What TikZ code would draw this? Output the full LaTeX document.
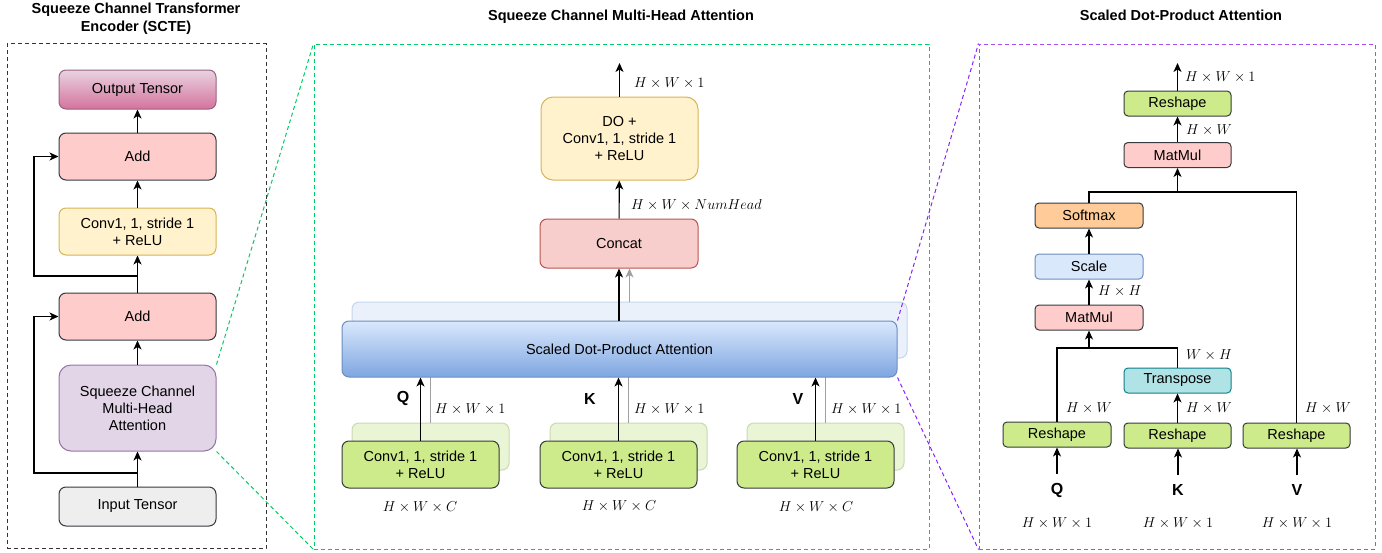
\documentclass[tikz,border=0pt]{standalone}
\usepackage{fontspec}
\setmainfont{Liberation Sans}
\usetikzlibrary{arrows.meta,calc}

\definecolor{edgegray}{HTML}{36393D}
\definecolor{addfill}{HTML}{FFCCCC}
\definecolor{yelfill}{HTML}{FFF2CC}
\definecolor{yeledge}{HTML}{D6B656}
\definecolor{purfill}{HTML}{E1D5E7}
\definecolor{puredge}{HTML}{9673A6}
\definecolor{infill}{HTML}{EEEEEE}
\definecolor{outtop}{HTML}{E8D3E0}
\definecolor{outbot}{HTML}{D5739D}
\definecolor{outedge}{HTML}{996185}
\definecolor{catfill}{HTML}{F8CECC}
\definecolor{catedge}{HTML}{B85450}
\definecolor{bluetop}{HTML}{DAE8FC}
\definecolor{bluebot}{HTML}{7EA6E0}
\definecolor{blueedge}{HTML}{6C8EBF}
\definecolor{ghostblue}{HTML}{EAF1FB}
\definecolor{ghostblueedge}{HTML}{C6D5EC}
\definecolor{greenfill}{HTML}{CDEB8B}
\definecolor{ghostgreen}{HTML}{EAF5D6}
\definecolor{ghostgreenedge}{HTML}{C9D9B2}
\definecolor{softfill}{HTML}{FFCC99}
\definecolor{transfill}{HTML}{B0E3E6}
\definecolor{transedge}{HTML}{0E8088}
\definecolor{zoomgreen}{HTML}{00CC66}
\definecolor{zoompurple}{HTML}{8822FF}
\definecolor{framepurple}{HTML}{A64DF0}
\definecolor{ghostline}{HTML}{A0A0A0}

\tikzset{
  blk/.style={rounded corners=7pt, line width=1pt, align=center, inner sep=0pt,
    font=\fontsize{14.5}{17}\selectfont, text=black},
  bigbox/.style={blk, minimum width=157pt},
  smallbox/.style={blk, rounded corners=4pt, minimum width=107pt, minimum height=25pt,
    draw=edgegray},
  arr/.style={-{Stealth[length=9pt,width=8pt,inset=2.5pt]}, line width=1.1pt},
  ghostarr/.style={-{Stealth[length=9pt,width=8pt,inset=2.5pt]}, line width=1pt, draw=ghostline, fill=ghostline},
  link/.style={line width=1.1pt},
  mlabel/.style={font=\fontsize{14}{16}\selectfont, inner sep=0pt, anchor=west},
  clabel/.style={font=\fontsize{14}{16}\selectfont, inner sep=0pt},
  letter/.style={font=\bfseries\fontsize{16}{18}\selectfont, inner sep=0pt},
  title/.style={font=\bfseries\fontsize{14.5}{18}\selectfont, align=center, inner sep=0pt},
  frame/.style={dash pattern=on 4pt off 3pt, line width=1pt, inner sep=0pt},
  zoomline/.style={dash pattern=on 4pt off 3pt, line width=1pt},
}

\begin{document}
\begin{tikzpicture}[x=1pt,y=-1pt]
\useasboundingbox (0,0) rectangle (1382,552);

% ---------------- panel titles ----------------
\node[title] (tl) at (136,19) {Squeeze Channel Transformer\\Encoder (SCTE)};
\node[title] (tm) at (621,17) {Squeeze Channel Multi-Head Attention};
\node[title] (tr) at (1181,15) {Scaled Dot-Product Attention};

% ---------------- frames ----------------
\node[frame, draw=black!80, minimum width=259pt, minimum height=505pt] (frameL) at (136.5,296) {};
\node[frame, draw=zoomgreen, minimum width=615pt, minimum height=505pt] (frameM) at (621.5,296.5) {};
\node[frame, draw=framepurple, minimum width=396pt, minimum height=505pt] (frameR) at (1177,296.5) {};

% ---------------- encoder (left) ----------------
\node[bigbox, minimum height=39pt, draw=outedge, top color=outtop, bottom color=outbot] (out) at (137.5,89.5) {Output Tensor};
\node[bigbox, minimum height=47pt, draw=edgegray, fill=addfill] (add1) at (137.5,156.5) {Add};
\node[bigbox, minimum height=47pt, draw=yeledge, fill=yelfill] (conv) at (137.5,231.5) {Conv1, 1, stride 1\\+ ReLU};
\node[bigbox, minimum height=47pt, draw=edgegray, fill=addfill] (add2) at (137.5,316.5) {Add};
\node[bigbox, minimum height=86pt, rounded corners=12pt, draw=puredge, fill=purfill] (scm) at (137.5,408) {Squeeze Channel\\Multi-Head\\Attention};
\node[bigbox, minimum height=39pt, draw=edgegray, fill=infill] (inp) at (137.5,506.5) {Input Tensor};

\draw[arr] (inp) -- (scm);
\draw[arr] (scm) -- (add2);
\draw[arr] (add2) -- (conv);
\draw[arr] (conv) -- (add1);
\draw[arr] (add1) -- (out);

\coordinate (skipA) at (137.5,276);
\coordinate (skipB) at (137.5,473);
\draw[arr] (skipA) -- (34,276) |- (add1.west);
\draw[arr] (skipB) -- (34,473) |- (add2.west);

% ---------------- multi-head attention (middle) ----------------
\node[bigbox, minimum width=157pt, minimum height=83pt, rounded corners=12pt, draw=yeledge, fill=yelfill] (do) at (619.5,138.5) {DO +\\Conv1, 1, stride 1\\+ ReLU};
\node[bigbox, minimum width=158pt, minimum height=49pt, draw=catedge, fill=catfill] (concat) at (619,243.5) {Concat};

% stacked copies behind
\node[blk, minimum width=555pt, minimum height=56pt, draw=ghostblueedge, fill=ghostblue] (sdpab) at (629.5,330) {};
\foreach \n/\x in {qb/430.5,kb/628.5,vb/825.5}
  \node[blk, minimum width=157pt, minimum height=47pt, draw=ghostgreenedge, fill=ghostgreen] (\n) at (\x,446.5) {};
\foreach \n in {qb,kb,vb}
  \draw[line width=1pt, draw=ghostline] (\n.north) -- (\n.north |- sdpab.south);
\draw[ghostarr] (sdpab.north) -- (sdpab.north |- concat.south);

% front layer
\node[blk, minimum width=555pt, minimum height=56pt, draw=blueedge, top color=bluetop, bottom color=bluebot] (sdpa) at (619.5,349) {Scaled Dot-Product Attention};
\node[bigbox, minimum height=47pt, draw=edgegray, fill=greenfill] (cq) at (420.5,464.5) {Conv1, 1, stride 1\\+ ReLU};
\node[bigbox, minimum height=47pt, draw=edgegray, fill=greenfill] (ck) at (618.5,464.5) {Conv1, 1, stride 1\\+ ReLU};
\node[bigbox, minimum height=47pt, draw=edgegray, fill=greenfill] (cv) at (815.5,464.5) {Conv1, 1, stride 1\\+ ReLU};

\draw[arr] (cq.north) -- (cq.north |- sdpa.south);
\draw[arr] (ck.north) -- (ck.north |- sdpa.south);
\draw[arr] (cv.north) -- (cv.north |- sdpa.south);
\draw[arr] (sdpa.north -| concat.south) -- (concat.south);
\draw[arr] (concat) -- (do);
\coordinate (mhout) at (619.5,63);
\draw[arr] (do.north) -- (mhout);

\node[letter] (lq) at (403,398) {Q};
\node[letter] (lk) at (590,399) {K};
\node[letter] (lv) at (798,399) {V};
\node[mlabel] (hq) at (435,409) {$H\times W\times 1$};
\node[mlabel] (hk) at (634,409) {$H\times W\times 1$};
\node[mlabel] (hv) at (831,409) {$H\times W\times 1$};
\node[clabel] (iq) at (420,507) {$H\times W\times C$};
\node[clabel] (ik) at (619,506) {$H\times W\times C$};
\node[clabel] (iv) at (816,507) {$H\times W\times C$};
\node[mlabel] (hcat) at (631,205) {$H\times W\times NumHead$};
\node[mlabel] (hdo) at (634,83) {$H\times W\times 1$};

% ---------------- scaled dot-product attention (right) ----------------
\node[smallbox, fill=greenfill] (rtop) at (1177.5,103.5) {Reshape};
\node[smallbox, fill=addfill] (mmtop) at (1177.5,155) {MatMul};
\node[smallbox, minimum width=108pt, fill=softfill] (soft) at (1089,215.5) {Softmax};
\node[smallbox, minimum width=108pt, draw=blueedge, fill=bluetop] (scale) at (1089,266.5) {Scale};
\node[smallbox, minimum width=108pt, fill=addfill] (mmlow) at (1089,317.5) {MatMul};
\node[smallbox, draw=transedge, fill=transfill] (trans) at (1177.5,380.5) {Transpose};
\node[smallbox, minimum width=108pt, fill=greenfill] (rq) at (1057,434.5) {Reshape};
\node[smallbox, fill=greenfill] (rk) at (1177.5,435.5) {Reshape};
\node[smallbox, fill=greenfill] (rv) at (1296.5,435.5) {Reshape};

\node[letter] (sq) at (1057,490) {Q};
\node[letter] (sk) at (1178,490) {K};
\node[letter] (sv) at (1297,490) {V};
\node[clabel] (dq) at (1057,523) {$H\times W\times 1$};
\node[clabel] (dk) at (1178,523) {$H\times W\times 1$};
\node[clabel] (dv) at (1297,523) {$H\times W\times 1$};

\draw[arr] ([yshift=9pt]sq.north) -- (sq.north |- rq.south);
\draw[arr] ([yshift=9pt]sk.north) -- (sk.north |- rk.south);
\draw[arr] ([yshift=9pt]sv.north) -- (sv.north |- rv.south);
\draw[arr] (rk) -- (trans);

\coordinate (jlow) at (1089,348);
\coordinate (jtop) at (1177.5,192);
\draw[link] (rq.north) |- (jlow) -| (trans.north);
\draw[arr] (jlow) -- (mmlow.south);
\draw[arr] (mmlow) -- (scale);
\draw[arr] (scale) -- (soft);
\draw[link] (soft.north) |- (jtop) -| (rv.north);
\draw[arr] (jtop) -- (mmtop.south);
\draw[arr] (mmtop) -- (rtop);
\coordinate (sdout) at (1177.5,63);
\draw[arr] (rtop.north) -- (sdout);

\node[mlabel] (l1) at (1185,77) {$H\times W\times 1$};
\node[mlabel] (l2) at (1186,130) {$H\times W$};
\node[mlabel] (l3) at (1098,291) {$H\times H$};
\node[mlabel] (l4) at (1186,355) {$W\times H$};
\node[mlabel] (l5) at (1066,408) {$H\times W$};
\node[mlabel] (l6) at (1186,408) {$H\times W$};
\node[mlabel] (l7) at (1305,408) {$H\times W$};

% ---------------- zoom connectors ----------------
\draw[zoomline, draw=zoomgreen] (scm.north east) -- (frameM.north west);
\draw[zoomline, draw=zoomgreen] (scm.south east) -- (frameM.south west);
\draw[zoomline, draw=zoompurple] (sdpa.north east) -- (frameR.north west);
\draw[zoomline, draw=zoompurple] (sdpa.south east) -- (frameR.south west);
\end{tikzpicture}
\end{document}
